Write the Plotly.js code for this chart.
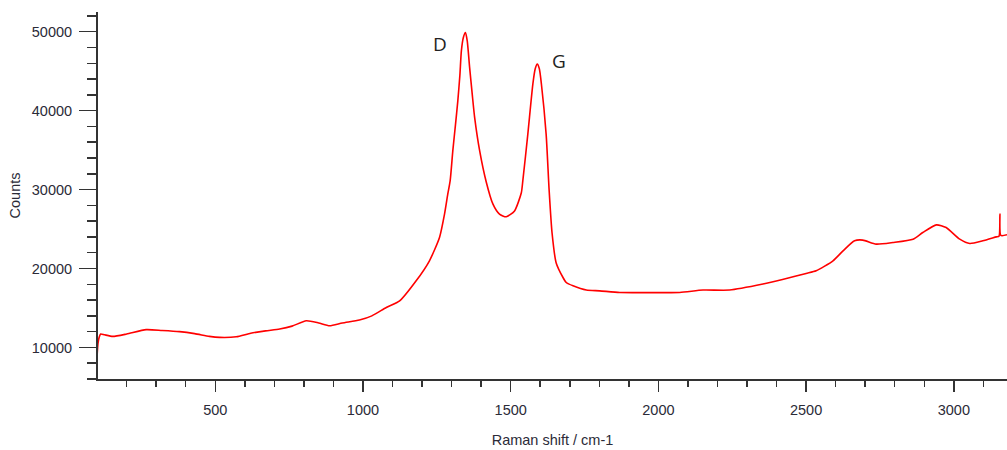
<!DOCTYPE html>
<html>
<head>
<meta charset="utf-8">
<script src="https://cdn.plot.ly/plotly-3.0.1.min.js"></script>
<style>html,body{margin:0;padding:0;background:#fff;}#chart{width:1007px;height:450px;}</style>
</head>
<body>
<div id="chart"></div>
<script>
// Raman shift (cm-1) and counts
const ramanShift = [100, 103, 107, 112, 125, 153, 200, 266, 320, 379, 430, 480, 515, 571, 620, 670, 718, 760, 808, 850, 887, 930, 988, 1030, 1079, 1124, 1180, 1225, 1259, 1276, 1287, 1295, 1304, 1313, 1321, 1328, 1333, 1340, 1347, 1353, 1361, 1370, 1378, 1395, 1417, 1440, 1462, 1485, 1513, 1536, 1541, 1558, 1575, 1583, 1590, 1597, 1604, 1620, 1630, 1640, 1654, 1677, 1688, 1711, 1756, 1801, 1869, 1960, 2072, 2151, 2241, 2354, 2420, 2500, 2534, 2591, 2625, 2664, 2692, 2737, 2794, 2862, 2895, 2941, 2974, 3020, 3054, 3098, 3144, 3153, 3156, 3159, 3180];
const counts = [9000, 10500, 11300, 11700, 11600, 11400, 11700, 12250, 12150, 12000, 11750, 11400, 11270, 11350, 11800, 12100, 12330, 12700, 13380, 13100, 12750, 13100, 13470, 14000, 15060, 15900, 18440, 20980, 23930, 26890, 29420, 31100, 34900, 38200, 41230, 44500, 47560, 49300, 49900, 48800, 45450, 42000, 39120, 34900, 31000, 28150, 26890, 26550, 27300, 29600, 31100, 37020, 43350, 45300, 45900, 45300, 43350, 37000, 30000, 24500, 20700, 18860, 18230, 17810, 17270, 17170, 16960, 16950, 16960, 17270, 17270, 18030, 18600, 19370, 19710, 20980, 22240, 23510, 23600, 23090, 23300, 23720, 24560, 25530, 25190, 23720, 23170, 23510, 24010, 24100, 26900, 24200, 24270];
const peakLabels = ["D", "G"];
const peakShift = [1259, 1662];
const peakCounts = [48450, 46300];

const tickFont = {family: "Liberation Sans, Arial, sans-serif", size: 14.5, color: "#2b2b38"};
const titleFont = {family: "Liberation Sans, Arial, sans-serif", size: 14.5, color: "#2b2b38"};
const trace = {
  x: ramanShift, y: counts, type: "scatter", mode: "lines",
  line: {color: "#ff0000", width: 1.6, shape: "spline", smoothing: 0.6}, hoverinfo: "skip"
};
const layout = {
  width: 1007, height: 450,
  margin: {l: 98, r: 0, t: 12, b: 71},
  paper_bgcolor: "#fff", plot_bgcolor: "#fff",
  showlegend: false,
  font: tickFont,
  xaxis: {
    range: [103, 3180], showgrid: false, zeroline: false,
    showline: true, linecolor: "#333", linewidth: 2,
    ticks: "outside", ticklen: 11, tickwidth: 1.5, tickcolor: "#333",
    tick0: 0, dtick: 500, tickformat: "d",
    minor: {ticks: "outside", ticklen: 6, dtick: 100, tickcolor: "#333", tickwidth: 1.5, showgrid: false},
    tickfont: tickFont,
    ticklabelstandoff: 6,
    title: {text: "Raman shift / cm-1", font: titleFont, standoff: 17}
  },
  yaxis: {
    range: [6000, 52500], showgrid: false, zeroline: false,
    showline: true, linecolor: "#333", linewidth: 2,
    ticks: "outside", ticklen: 17, tickwidth: 1.5, tickcolor: "#333",
    tick0: 0, dtick: 10000, tickformat: "d",
    minor: {ticks: "outside", ticklen: 9, dtick: 2000, tickcolor: "#333", tickwidth: 1.5, showgrid: false},
    tickfont: tickFont,
    ticklabelstandoff: 4,
    title: {text: "Counts", font: titleFont, standoff: 8}
  },
  annotations: peakLabels.map((t, i) => ({
    x: peakShift[i], y: peakCounts[i], xref: "x", yref: "y", text: t, showarrow: false,
    font: {family: "Open Sans, Noto Sans, sans-serif", size: 19, color: "#222"}
  }))
};
Plotly.newPlot("chart", [trace], layout, {staticPlot: true, displayModeBar: false});
</script>
</body>
</html>
